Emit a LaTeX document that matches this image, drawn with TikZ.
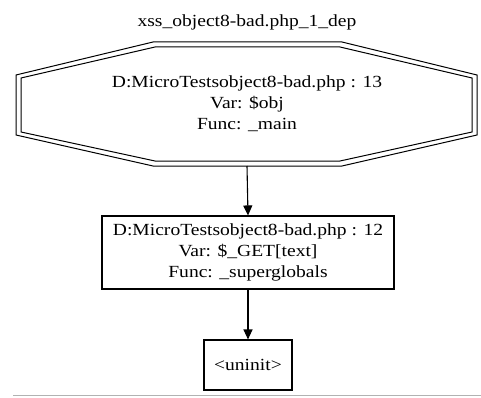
\documentclass[tikz,border=0pt]{standalone}
\usepackage{fontspec}
\setmainfont[FakeStretch=1.15]{Liberation Serif}
\usetikzlibrary{arrows.meta}
\begin{document}
\begin{tikzpicture}[x=1pt,y=-1pt,
  txt/.style={font=\fontsize{17}{21}\selectfont, align=center, inner sep=0pt},
  rbox/.style={draw, line width=1.1pt, inner sep=0pt, font=\fontsize{17}{21}\selectfont, align=center},
  edge/.style={line width=1.1pt, -{Triangle[length=10pt,width=9pt]}},
  oct/.style={line width=1pt}]
\useasboundingbox (0,0) rectangle (481,398);
\fill[white] (0,0) rectangle (481,398);
\node[txt] (title) at (247,22) {xss\_object8-bad.php\_1\_dep};
% octagon
\draw[oct] (153,42) -- (342,42) -- (477,75) -- (477,135) -- (342,166) -- (153,166) -- (16,135) -- (16,75) -- cycle;
\draw[oct] (155,47) -- (340,47) -- (472,78) -- (472,132) -- (340,161) -- (155,161) -- (21,132) -- (21,78) -- cycle;
\node[txt] (n1) at (247,104) {D:MicroTestsobject8-bad.php : 13\\Var: \$obj\\Func: \_main};
\coordinate (n1b) at (247,166);
\node[rbox, minimum width=292pt, minimum height=73pt] (n2) at (248,252.5) {D:MicroTestsobject8-bad.php : 12\\Var: \$\_GET[text]\\Func: \_superglobals};
\node[rbox, minimum width=88pt, minimum height=50pt] (n3) at (248,365) {<uninit>};
\draw[edge] (n1b) -- (n2.north);
\draw[edge] (n2.south) -- (n3.north);
\draw[black!30, line width=0.8pt] (13,395.5) -- (481,395.5);
\end{tikzpicture}
\end{document}
